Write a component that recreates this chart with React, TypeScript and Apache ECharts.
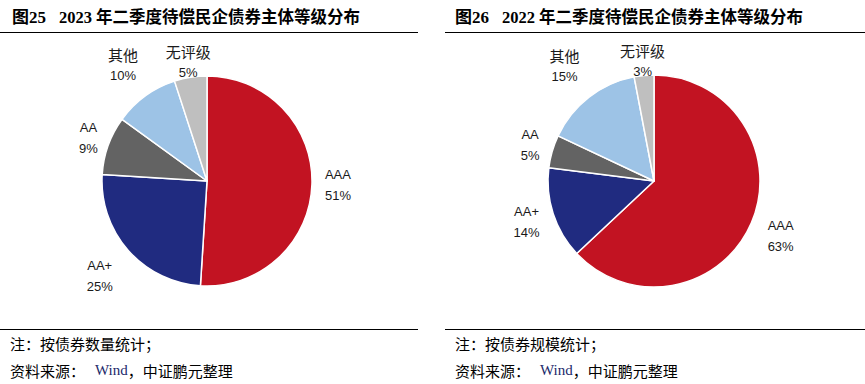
import React, { useEffect, useRef } from "react";
import * as echarts from "echarts";

// ---- data ----
const categories = ["AAA", "AA+", "AA", "其他", "无评级"];
const values2023 = [51, 25, 9, 10, 5];
const values2022 = [63, 14, 5, 15, 3];
const colors = ["#C21322", "#202B80", "#636363", "#9DC3E6", "#BFBFBF"];
const titleLeft = ["图25", "2023 年二季度待偿民企债券主体等级分布"];
const titleRight = ["图26", "2022 年二季度待偿民企债券主体等级分布"];
const noteLeft = "注：按债券数量统计；";
const noteRight = "注：按债券规模统计；";
const sourceParts = ["资料来源：", "Wind", "，中证鹏元整理"];
// label distance beyond the pie edge (px), per slice
const labelReach2023 = [26, 38, 21, 38, 15];
const labelReach2022 = [32, 28, 23, 40, 15];

const CJK = "Noto Sans CJK SC";
const SERIF = "Liberation Serif";
const SANS = "Liberation Sans";

const isCJK = (s: string) => /[\u4e00-\u9fff]/.test(s);

const labelRich = {
  cn: { fontFamily: CJK, fontSize: 15, align: "center", lineHeight: 21, color: "#1a1a1a" },
  en: { fontFamily: SANS, fontSize: 13, align: "center", lineHeight: 21, color: "#1a1a1a" },
};

function pieSeries(values: number[], reach: number[], center: [number, number], radius: number) {
  return {
    type: "pie",
    center,
    radius,
    startAngle: 90,
    clockwise: true,
    avoidLabelOverlap: false,
    data: categories.map((n, i) => ({
      name: n,
      value: values[i],
      itemStyle: { color: colors[i] },
      labelLine: { show: false, length: reach[i], length2: 0 },
    })),
    itemStyle: { borderColor: "#ffffff", borderWidth: 1.5 },
    label: {
      show: true,
      position: "outside",
      distanceToLabelLine: 0,
      formatter: (p: any) => `{${isCJK(p.name) ? "cn" : "en"}|${p.name}}\n{en|${p.value}%}`,
      rich: labelRich,
    },
    labelLine: { show: false, length: 27, length2: 0 },
    labelLayout: { align: "center" },
    emphasis: { disabled: true },
  };
}

function titleText(x: number, parts: string[]) {
  return {
    type: "text",
    x,
    y: 17,
    style: {
      text: `{a|${parts[0]}}{b|${parts[1]}}`,
      verticalAlign: "middle",
      rich: {
        a: { fontFamily: `${SERIF}, ${CJK}`, fontWeight: "bold", fontSize: 17, fill: "#000" },
        b: { fontFamily: `${SERIF}, ${CJK}`, fontWeight: "bold", fontSize: 16.5, fill: "#000", padding: [0, 0, 0, 13] },
      },
    },
  };
}

function noteTexts(x: number, note: string) {
  return [
    {
      type: "text",
      x,
      y: 343,
      style: { text: note, fontFamily: CJK, fontSize: 15, fill: "#000", verticalAlign: "middle" },
    },
    {
      type: "text",
      x,
      y: 370,
      style: {
        text: `{c|${sourceParts[0]}}{w|${sourceParts[1]}}{c|${sourceParts[2]}}`,
        verticalAlign: "middle",
        rich: {
          c: { fontFamily: CJK, fontSize: 15, fill: "#000" },
          w: { fontFamily: SERIF, fontSize: 15, fill: "#1c2a6b", padding: [0, 0, 0, 10] },
        },
      },
    },
  ];
}

function hLine(x1: number, x2: number, y: number) {
  return {
    type: "line",
    shape: { x1, y1: y, x2, y2: y },
    style: { stroke: "#000", lineWidth: 1 },
  };
}

export default function App() {
  const ref = useRef<HTMLDivElement>(null);
  useEffect(() => {
    document.body.style.margin = "0";
    if (!ref.current) return;
    const chart = echarts.init(ref.current, null, { renderer: "svg" });
    chart.setOption({
      animation: false,
      backgroundColor: "#ffffff",
      series: [
        pieSeries(values2023, labelReach2023, [207, 181], 105),
        pieSeries(values2022, labelReach2022, [654, 181], 106),
      ],
      graphic: [
        titleText(12, titleLeft),
        titleText(455, titleRight),
        hLine(0, 418, 32.5),
        hLine(445, 865, 32.5),
        hLine(0, 418, 329.5),
        hLine(445, 865, 329.5),
        ...noteTexts(10, noteLeft),
        ...noteTexts(455, noteRight),
      ],
    });
    return () => chart.dispose();
  }, []);
  return <div ref={ref} style={{ width: 865, height: 384 }} />;
}
